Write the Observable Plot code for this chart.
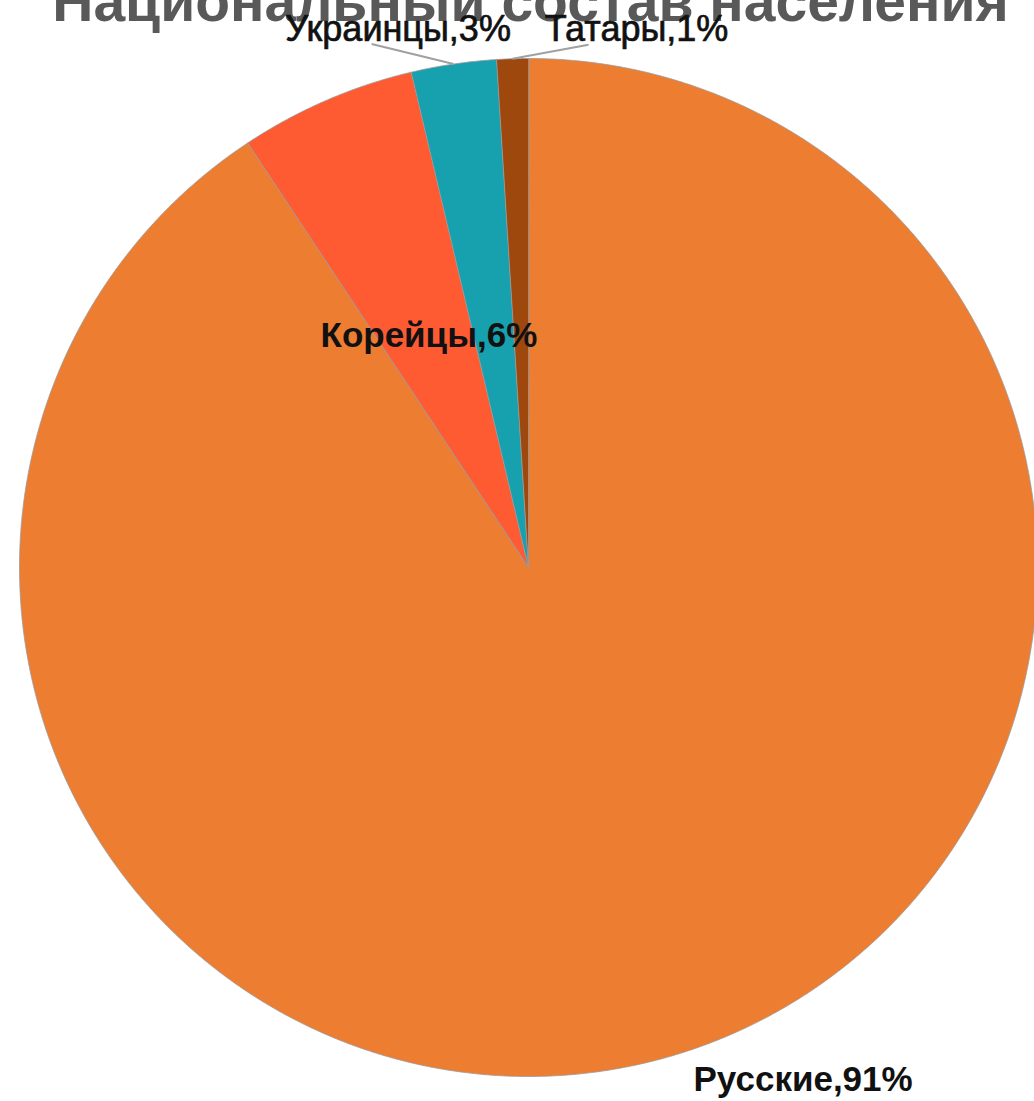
<!DOCTYPE html>
<html><head><meta charset="utf-8">
<script src="https://cdn.jsdelivr.net/npm/d3@7"></script>
<script src="https://cdn.jsdelivr.net/npm/@observablehq/plot@0.6"></script>
<style>html,body{margin:0;padding:0;background:#fff;overflow:hidden}</style>
</head><body><div id="chart"></div>
<script>
// ---- data ----
const title = "Национальный состав населения";
const categories = ["Русские", "Корейцы", "Украинцы", "Татары"];
const shares = [90.7, 5.6, 2.7, 1.0];
const colors = ["#ED7D31", "#FF5B33", "#17A0AE", "#9E480E"];

// ---- layout ----
const W = 1034, H = 1101, CX = 528, CY = 567, R = 509;
const layout = {
  "Русские":  {r: 1.0, dx: 128, dy: 25, leader: null, size: 35, weight: "bold", sw: 0},
  "Корейцы":  {r: 0.5, dx: 1.5, dy: 1.5, leader: null, size: 35, weight: "bold", sw: 0},
  "Украинцы": {r: 1.0, leader: [-82, -20], dx: 26.5, dy: -14.5, size: 36, weight: "normal", sw: 0.7},
  "Татары":   {r: 1.0, leader: [76, -14], dx: 48, dy: -15.5, size: 36, weight: "normal", sw: 0.7}
};

const arcs = d3.pie().sort(null).value(d => d)(shares);
const slices = categories.map((name, i) => ({
  name, share: shares[i], start: arcs[i].startAngle, end: arcs[i].endAngle,
  mid: (arcs[i].startAngle + arcs[i].endAngle) / 2,
  label: `${name},${Math.round(shares[i])}%`
}));

const pts = [];
for (const s of slices) {
  pts.push({name: s.name, x: 0, y: 0});
  const n = Math.max(2, Math.ceil((s.end - s.start) / (Math.PI / 720)));
  for (let k = 0; k <= n; k++) {
    const a = s.start + (s.end - s.start) * k / n;
    pts.push({name: s.name, x: Math.sin(a), y: Math.cos(a)});
  }
}

const labels = [], leaders = [];
for (const s of slices) {
  const L = layout[s.name];
  let bx = Math.sin(s.mid) * L.r, by = Math.cos(s.mid) * L.r;
  if (L.leader) {
    const ex = bx + L.leader[0] / R, ey = by - L.leader[1] / R;
    leaders.push({x1: bx, y1: by, x2: ex, y2: ey});
    bx = ex; by = ey;
  }
  labels.push({text: s.label, x: bx + L.dx / R, y: by - L.dy / R, size: L.size, weight: L.weight, sw: L.sw});
}

const font = "'Liberation Sans', Arial, sans-serif";
const chart = Plot.plot({
  width: W, height: H, margin: 0,
  x: {domain: [-1, 1], range: [CX - R, CX + R], axis: null},
  y: {domain: [-1, 1], range: [CY + R, CY - R], axis: null},
  color: {domain: categories, range: colors},
  style: {fontFamily: font, background: "#fff", overflow: "visible"},
  marks: [
    Plot.text([title], {frameAnchor: "top", lineAnchor: "bottom", dy: 20, dx: 13,
      fontSize: 57, fontWeight: "bold", fill: "#595959"}),
    Plot.line(pts, {x: "x", y: "y", z: "name", fill: "name", stroke: "#9a9a9a",
      strokeWidth: 0.8, curve: "linear-closed"}),
    Plot.link(leaders, {x1: "x1", y1: "y1", x2: "x2", y2: "y2", stroke: "#a0a0a0", strokeWidth: 2}),
    ...labels.map(l => Plot.text([l], {x: "x", y: "y", text: "text", lineAnchor: "middle",
      fontSize: l.size, fontWeight: l.weight, fill: "#111",
      stroke: l.sw ? "#111" : undefined, strokeWidth: l.sw || undefined}))
  ]
});
document.getElementById("chart").appendChild(chart);
</script>
</body></html>
